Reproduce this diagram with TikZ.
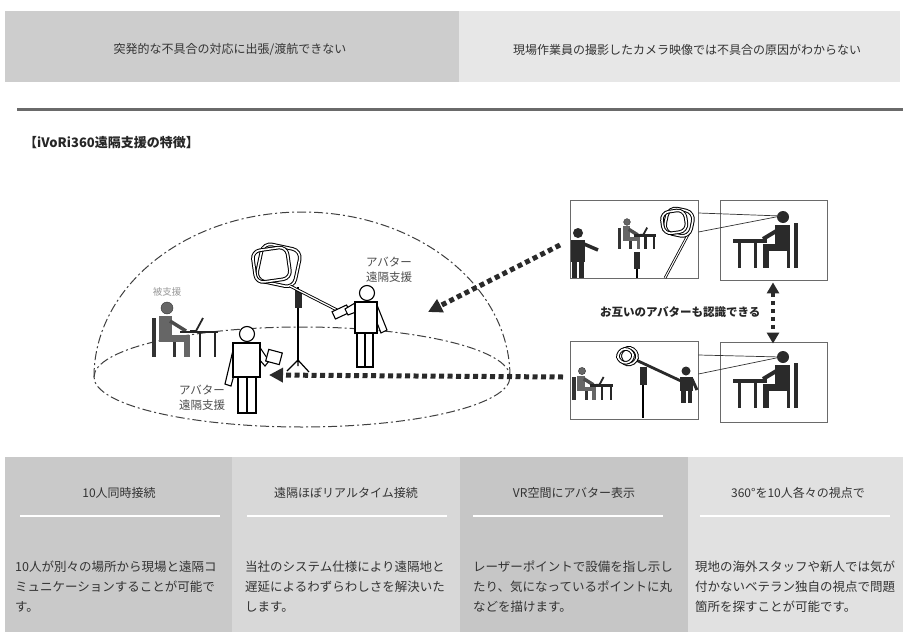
\documentclass[tikz,border=0pt]{standalone}
\usepackage{fontspec}
\setmainfont{Noto Sans CJK JP}
\usetikzlibrary{arrows.meta}

\definecolor{barA}{HTML}{CDCDCD}
\definecolor{barB}{HTML}{E7E7E7}
\definecolor{colA}{HTML}{C9C9C9}
\definecolor{colB}{HTML}{D8D8D8}
\definecolor{colC}{HTML}{C6C6C6}
\definecolor{colD}{HTML}{E1E1E1}
\definecolor{ink}{HTML}{333333}
\definecolor{pict}{HTML}{2A2A2A}
\definecolor{rule}{HTML}{6A6A6A}

\tikzset{
  bartext/.style={font=\fontsize{12}{14}\selectfont, text=ink},
  headtext/.style={font=\fontsize{12}{14}\selectfont, text=ink},
  bodytext/.style={font=\fontsize{12.5}{20}\selectfont, text=ink, align=left, anchor=north west, inner sep=0pt},
  domeline/.style={draw=black!75, line width=1pt, dash pattern=on 9pt off 3pt on 2pt off 3pt},
  dotarrow/.style={draw=pict, line width=5pt, dash pattern=on 5pt off 3.5pt,
     -{Triangle[length=14pt,width=14pt]}},
  dotboth/.style={draw=pict, line width=4.5pt, dash pattern=on 4.5pt off 3.5pt,
     {Triangle[length=11pt,width=12pt]}-{Triangle[length=11pt,width=12pt]}},
  panel/.style={draw=rule, line width=0.9pt, fill=white, minimum width=128pt, minimum height=78pt, inner sep=0pt},
  cone/.style={draw=ink, line width=0.7pt},
  avatar/.style={draw=black, line width=1.1pt, fill=white},
  label/.style={font=\fontsize{11.5}{15}\selectfont, text=black!70, align=center},
  % seated worker facing right, origin at the head
  seatR/.pic={
    \fill[black!60, draw=black!80] (0,0) circle[radius=6];
    \draw[black!80, line width=3.5pt] (-13,10) -- (-13,49);
    \fill[black!60] (-8,8) rectangle (5,34);
    \fill[black!60] (-8,27) rectangle (23,34);
    \fill[black!60] (17,34) rectangle (23,49);
    \draw[black!80, line width=3pt] (7,34) -- (7,49);
    \draw[black!70, line width=3.5pt] (3,13) -- (19,23);
    \draw[black!85, line width=2.5pt] (13,24) -- (51,24);
    \draw[black!85, line width=2.2pt] (33,24) -- (33,49) (48,24) -- (48,49);
    \draw[black!85, line width=1.8pt] (23,23) -- (29,23) -- (36,10);
  },
  % seated worker facing left, origin at the head
  seatL/.pic={
    \fill[pict] (0,0) circle[radius=6];
    \fill[pict] (-8,8) rectangle (7,33);
    \fill[pict] (-20,27) rectangle (7,34);
    \fill[pict] (-20,34) rectangle (-14,51);
    \draw[pict, line width=4pt] (13,6) -- (13,51);
    \draw[pict, line width=3pt] (5,34) -- (5,51);
    \draw[pict, line width=4pt] (-5,13) -- (-20,22);
    \draw[pict, line width=3.5pt] (-50,24) -- (-16,24);
    \draw[pict, line width=3pt] (-44,24) -- (-44,51) (-28,24) -- (-28,51);
  },
  % 360 camera head: two offset rounded housings
  cam/.pic={
    \draw[black, line width=1pt, double=white, double distance=1.6pt, rounded corners=9pt, rotate=-12]
      (-18,-19) rectangle (21,19);
    \draw[black, line width=1pt, double=white, double distance=1.6pt, rounded corners=8pt, rotate=8]
      (-23,-17) rectangle (12,15);
  }
}

\begin{document}
\begin{tikzpicture}[x=1pt,y=-1pt]
\useasboundingbox (0,0) rectangle (903,632);
\fill[white] (0,0) rectangle (903,632);

% ---------- problem bars ----------
\fill[barA] (5,11) rectangle (459,82);
\fill[barB] (459,11) rectangle (900,82);
\node[bartext] (probA) at (230,50) {突発的な不具合の対応に出張/渡航できない};
\node[bartext] (probB) at (687,50) {現場作業員の撮影したカメラ映像では不具合の原因がわからない};
\draw[rule, line width=3pt] (17,109) -- (903,109);

% ---------- title ----------
\node[anchor=west, inner sep=0pt, font=\fontsize{13}{15}\selectfont\bfseries, text=black!85] (title) at (24,143) {【iVoRi360遠隔支援の特徴】};

% ---------- dome ----------
\draw[domeline] (94,377) arc[start angle=180, end angle=360, x radius=208, y radius=165];
\draw[domeline] (302,377) ellipse[x radius=208, y radius=50];

% supported person at the desk
\pic at (167,308) {seatR};
\node[font=\fontsize{9.5}{11}\selectfont, text=black!40] (supp) at (167,292) {被支援};

% camera on its stand
\pic at (277,265) {cam};
\draw[black, line width=1.2pt] (298,287) -- (298,362);
\fill[pict] (295,290) rectangle (302,308);
\draw[black, line width=1.2pt] (298,360) -- (287,371) (298,360) -- (309,372) (298,360) -- (298,366);

% selfie stick held by the rear avatar
\draw[black, line width=0.9pt, double=white, double distance=1.2pt] (290,286) -- (337,310);
\draw[avatar, rotate around={25:(341,312)}] (333,308) rectangle (349,316);

% rear avatar
\draw[avatar] (357,333) rectangle (365,367);
\draw[avatar] (365,333) rectangle (373,367);
\draw[avatar] (377,305) -- (387,330) -- (381,333) -- (374,315) -- cycle;
\draw[avatar] (355,303) -- (345,309) -- (348,315) -- (356,312) -- cycle;
\draw[avatar] (355,302) rectangle (377,333);
\draw[avatar] (367,293) circle[radius=7.5];
\node[label] (avR) at (389,270) {アバター\\遠隔支援};

% front avatar
\draw[avatar] (238,377) rectangle (247,413);
\draw[avatar] (247,377) rectangle (256,413);
\draw[avatar] (234,346) -- (225,384) -- (231,386) -- (238,360) -- cycle;
\draw[avatar] (259,346) -- (269,361) -- (265,366) -- (258,358) -- cycle;
\draw[avatar, rotate around={-15:(274,357)}] (267,351) rectangle (281,363);
\draw[avatar] (233,343) rectangle (260,377);
\draw[avatar] (247,334) circle[radius=7.5];
\node[label] (avL) at (202,398) {アバター\\遠隔支援};

% ---------- remote sites ----------
\node[panel] (pTL) at (634,239) {};
\node[panel, minimum width=107pt, minimum height=80pt] (pTR) at (773.5,240) {};
\node[panel] (pBL) at (634,380) {};
\node[panel, minimum width=107pt, minimum height=80pt] (pBR) at (773.5,382) {};

% upper site: guide, seated worker, camera
\fill[pict] (578,233) circle[radius=5];
\fill[pict] (571,240) rectangle (585,262);
\fill[pict] (572,262) rectangle (577,278);
\fill[pict] (579,262) rectangle (584,278);
\draw[pict, line width=3.5pt] (584,244) -- (598,250);
\pic[scale=0.56] at (627,222) {seatR};
\draw[black, line width=1.2pt] (637,252) -- (637,278);
\fill[pict] (634,252) rectangle (640,269);
\draw[black, line width=0.8pt, double=white, double distance=1pt] (689,233) -- (665,278);
\pic[scale=0.68] at (678,222) {cam};
\pic at (783,217) {seatL};
\coordinate (eyeT) at (781,216);
\draw[cone] (eyeT) -- (pTL.east |- 0,213);
\draw[cone] (eyeT) -- (pTL.east |- 0,232);

% lower site: seated worker, camera, holder
\pic[scale=0.6] at (582,371) {seatR};
\draw[black, line width=1.2pt] (643,367) -- (643,418);
\fill[pict] (640,367) rectangle (647,385);
\draw[pict, line width=2.8pt] (636,360) -- (681,381);
\pic[scale=0.44] at (628,356) {cam};
\fill[pict] (686,371) circle[radius=4.5];
\fill[pict] (680,377) rectangle (693,391);
\fill[pict] (681,391) rectangle (685.5,403);
\fill[pict] (687.5,391) rectangle (692,403);
\draw[pict, line width=3pt] (692,379) -- (697,390);
\pic at (783,357) {seatL};
\coordinate (eyeB) at (781,357);
\draw[cone] (eyeB) -- (pBL.east |- 0,355);
\draw[cone] (eyeB) -- (pBL.east |- 0,374);

% mutual view
\draw[dotboth] (pTR.south -| 773,0) ++(0,2) coordinate (mTop) -- ([yshift=-2pt]pBR.north -| 773,0);
\node[anchor=east, font=\fontsize{11.5}{13}\selectfont\bfseries, text=black!85] (mutual) at (764,312) {お互いのアバターも認識できる};

% ---------- connections to the shared space ----------
\coordinate (a1s) at (560,245);
\coordinate (a1e) at (428,312);
\coordinate (a2s) at (563,377);
\coordinate (a2e) at (269,375);
\draw[dotarrow] (a1s) -- (a1e);
\draw[dotarrow] (a2s) -- (a2e);

% ---------- feature columns ----------
\fill[colA] (5,457) rectangle (232,632);
\fill[colB] (232,457) rectangle (460,632);
\fill[colC] (460,457) rectangle (688,632);
\fill[colD] (688,457) rectangle (903,632);
\foreach \a/\b in {20/220, 247/447, 473/663, 700/890}
  \draw[white, line width=1.3pt] (\a,516) -- (\b,516);

\node[headtext] (h1) at (119,493) {10人同時接続};
\node[headtext] (h2) at (346,493) {遠隔ほぼリアルタイム接続};
\node[headtext] (h3) at (574,493) {VR空間にアバター表示};
\node[headtext] (h4) at (798,493) {360°を10人各々の視点で};

\node[bodytext] (b1) at (15,561) {10人が別々の場所から現場と遠隔コ\\ミュニケーションすることが可能で\\す。};
\node[bodytext] (b2) at (245,561) {当社のシステム仕様により遠隔地と\\遅延によるわずらわしさを解決いた\\します。};
\node[bodytext] (b3) at (473,561) {レーザーポイントで設備を指し示し\\たり、気になっているポイントに丸\\などを描けます。};
\node[bodytext] (b4) at (695,561) {現地の海外スタッフや新人では気が\\付かないベテラン独自の視点で問題\\箇所を探すことが可能です。};
\end{tikzpicture}
\end{document}
